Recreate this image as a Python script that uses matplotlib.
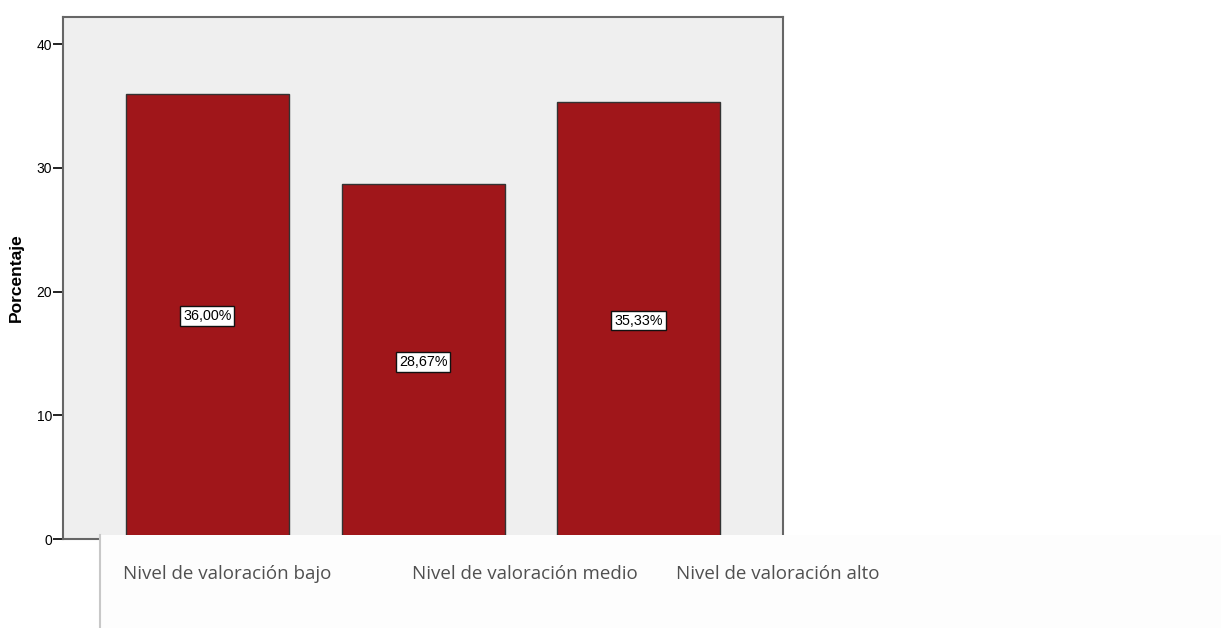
import matplotlib.pyplot as plt
from matplotlib.patches import Rectangle
from matplotlib.lines import Line2D

# ================= DATA =================
categorias = ["Nivel de valoración bajo", "Nivel de valoración medio", "Nivel de valoración alto"]
porcentajes = [36.00, 28.67, 35.33]
etiquetas = ["36,00%", "28,67%", "35,33%"]
yticks = [0, 10, 20, 30, 40]

plt.rcParams["font.family"] = ["Liberation Sans", "DejaVu Sans"]

# ================= FIGURE =================
fig = plt.figure(figsize=(12.21, 6.28), dpi=100)
ax = fig.add_axes([0.0516, 0.1417, 0.5897, 0.8312])
ax.set_facecolor("#efefef")

x = range(len(categorias))
bars = ax.bar(x, porcentajes, width=0.756, color="#a0161a",
              edgecolor="#333333", linewidth=1.0, zorder=2)

# value labels in the middle of each bar
for bar, txt in zip(bars, etiquetas):
    ax.text(bar.get_x() + bar.get_width() / 2, bar.get_height() / 2, txt,
            ha="center", va="center", fontsize=10.3, color="black", zorder=3,
            bbox=dict(boxstyle="square,pad=0.2", facecolor="white",
                      edgecolor="#111111", linewidth=1.0))

ax.set_xlim(-0.67, 2.67)
ax.set_ylim(0, 42.2)
ax.set_xticks([])
ax.set_yticks(yticks)
ax.set_yticklabels([str(t) for t in yticks], fontsize=10)
ax.tick_params(axis="y", length=7, width=1.4, color="#222222", pad=1)
ax.set_ylabel("Porcentaje", fontsize=12.5, fontweight="bold", labelpad=9)

for side in ["left", "right", "top", "bottom"]:
    ax.spines[side].set_color("#666666")
    ax.spines[side].set_linewidth(1.5)

# category strip along the bottom
fig.patches.append(Rectangle((0.0819, 0), 1 - 0.0819, 0.148,
                             transform=fig.transFigure, facecolor="#fdfdfd",
                             edgecolor="none", zorder=5))
fig.lines.append(Line2D([0.0823, 0.0823], [0, 0.148], transform=fig.transFigure,
                        color="#c8c8c8", linewidth=1.5, zorder=6))

label_x = [123, 412, 676]
for lx, cat in zip(label_x, categorias):
    fig.text(lx / 1221, 1 - 574 / 628, cat, ha="left", va="center",
             fontsize=13.5, color="#505050", family="Open Sans", zorder=7)

plt.savefig("out.png", dpi=100)
